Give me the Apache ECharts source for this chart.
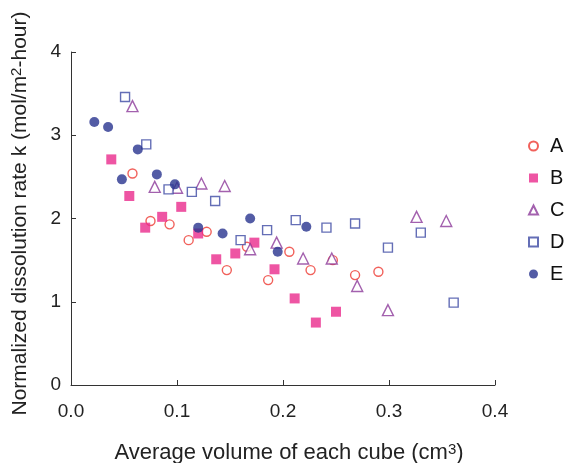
<!DOCTYPE html>
<html>
<head>
<meta charset="utf-8">
<script src="https://cdn.jsdelivr.net/npm/echarts@6/dist/echarts.min.js"></script>
<style>
html, body { margin: 0; padding: 0; background: #fff; }
#main { width: 567px; height: 463px; }
</style>
</head>
<body>
<div id="main"></div>
<script>
// 数据
var seriesNames = ['A', 'B', 'C', 'D', 'E'];
var dataA = [[0.058,2.54],[0.075,1.97],[0.093,1.93],[0.111,1.74],[0.128,1.84],[0.147,1.38],[0.166,1.66],[0.186,1.26],[0.206,1.60],[0.226,1.38],[0.247,1.50],[0.268,1.32],[0.290,1.36]];
var dataB = [[0.038,2.71],[0.055,2.27],[0.070,1.89],[0.086,2.02],[0.104,2.14],[0.120,1.82],[0.137,1.51],[0.155,1.58],[0.173,1.71],[0.192,1.39],[0.211,1.04],[0.231,0.75],[0.250,0.88]];
var dataC = [[0.058,3.35],[0.079,2.38],[0.100,2.37],[0.123,2.42],[0.145,2.39],[0.169,1.63],[0.194,1.71],[0.219,1.52],[0.246,1.52],[0.270,1.19],[0.299,0.90],[0.326,2.02],[0.354,1.97]];
var dataD = [[0.051,3.46],[0.071,2.89],[0.092,2.35],[0.114,2.32],[0.136,2.21],[0.160,1.74],[0.185,1.86],[0.212,1.98],[0.241,1.89],[0.268,1.94],[0.299,1.65],[0.330,1.83],[0.361,0.99]];
var dataE = [[0.022,3.16],[0.035,3.10],[0.048,2.47],[0.063,2.83],[0.081,2.53],[0.098,2.41],[0.120,1.89],[0.143,1.82],[0.169,2.00],[0.195,1.60],[0.222,1.90]];
var xTicks = [0, 0.1, 0.2, 0.3, 0.4];
var yTicks = [0, 1, 2, 3, 4];

var fontFam = '"Liberation Sans", Arial, sans-serif';
var chart = echarts.init(document.getElementById('main'), null, { renderer: 'canvas' });

// 空心/实心标记
function mk(name, data, symbol, size, color, hollow) {
	return {
		name: name,
		type: 'scatter',
		data: data,
		symbol: symbol,
		symbolSize: size,
		itemStyle: hollow ? { color: '#fff', borderColor: color, borderWidth: 1.4 } : { color: color },
		emphasis: { disabled: true }
	};
}

var supRich = {
	sup: { fontSize: 15, verticalAlign: 'top', fontFamily: fontFam, color: '#222', padding: [0, 0, 7, 0] }
};

var option = {
	animation: false,
	backgroundColor: '#fff',
	textStyle: { fontFamily: fontFam },
	// 固定绘图区，不让轴名挤压网格
	grid: { left: 71, right: 72, top: 52, bottom: 78, outerBoundsMode: 'none', containLabel: false },
	legend: {
		orient: 'vertical',
		left: 523,
		top: 131,
		itemWidth: 9,
		itemHeight: 9,
		itemGap: 12,
		data: seriesNames,
		textStyle: { fontSize: 20, color: '#111', fontFamily: fontFam, padding: [0, 0, 0, 7] }
	},
	xAxis: {
		type: 'value',
		min: xTicks[0],
		max: xTicks[xTicks.length - 1],
		interval: 0.1,
		name: 'Average volume of each cube (cm{sup|3})',
		nameLocation: 'middle',
		nameGap: 57,
		nameTextStyle: { fontSize: 22, color: '#222', fontFamily: fontFam, rich: supRich, padding: [0, 0, 0, 12] },
		axisLine: { lineStyle: { color: '#333', width: 1 } },
		axisTick: { inside: true, length: 5, lineStyle: { color: '#333' } },
		axisLabel: { fontSize: 19, color: '#222', margin: 17, formatter: function(v) { return v.toFixed(1); } },
		splitLine: { show: false }
	},
	yAxis: {
		type: 'value',
		min: yTicks[0],
		max: yTicks[yTicks.length - 1],
		interval: 1,
		name: 'Normalized dissolution rate k (mol/m{sup|2}-hour)',
		nameLocation: 'middle',
		nameGap: 40,
		nameTextStyle: { fontSize: 21, color: '#222', fontFamily: fontFam, rich: supRich, padding: [0, 0, 0, 10] },
		axisLine: { show: true, lineStyle: { color: '#333', width: 1 } },
		axisTick: { show: true, inside: true, length: 5, lineStyle: { color: '#333' } },
		axisLabel: { fontSize: 19, color: '#222', margin: 10 },
		splitLine: { show: false }
	},
	series: [
		mk('A', dataA, 'circle', 9, '#ee3a32', true),
		mk('B', dataB, 'rect', 10, '#ea2a8c', false),
		mk('C', dataC, 'triangle', 11, '#8c3a9a', true),
		mk('D', dataD, 'rect', 9, '#3d4aa4', true),
		mk('E', dataE, 'circle', 10, '#28338f', false)
	]
};

chart.setOption(option);
</script>
</body>
</html>
